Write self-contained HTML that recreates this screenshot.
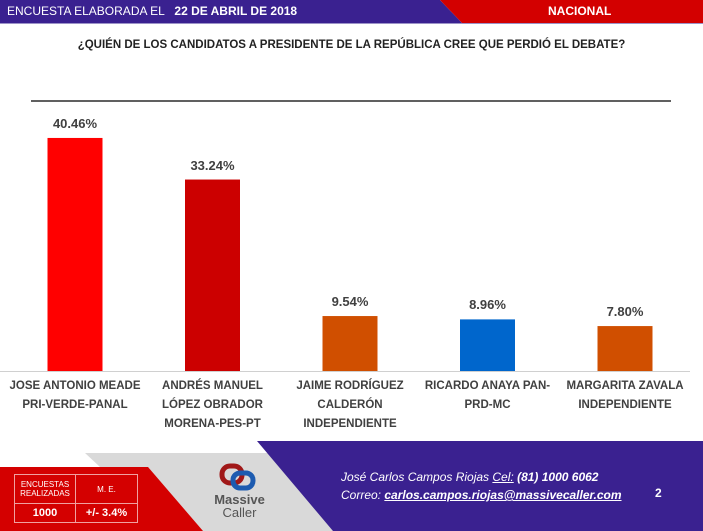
<!DOCTYPE html>
<html><head><meta charset="utf-8"><style>
body{margin:0;width:703px;height:531px;overflow:hidden;background:#fff;font-family:"Liberation Sans",sans-serif;position:relative}
.abs{position:absolute}
.lbl{position:absolute;width:140px;text-align:center;font-weight:bold;font-size:11.5px;line-height:19px;color:#404040;top:377px}
.val{position:absolute;width:100px;text-align:center;font-weight:bold;font-size:13px;color:#404040}
</style></head><body>
<svg class="abs" style="left:0;top:0" width="703" height="531">
<polygon points="0,0 440,0 462,23 0,23" fill="#3a2190"/>
<polygon points="440,0 703,0 703,23 462,23" fill="#d30000"/>
<line x1="0" y1="23.5" x2="703" y2="23.5" stroke="#9c93c8" stroke-width="1"/>
<polygon points="85,453 270,453 340,531 150,531 100,467" fill="#d9d9d9"/>
<polygon points="257,441 703,441 703,531 333,531" fill="#3a2190"/>
<polygon points="0,467 148,467 203,531 0,531" fill="#d40000"/>
<line x1="31" y1="101" x2="671" y2="101" stroke="#000" stroke-width="1.3"/>
<line x1="0" y1="371.5" x2="690" y2="371.5" stroke="#d0d0d0" stroke-width="1"/>
<g id="bars"></g>
<g>
<rect x="222" y="466" width="20" height="17" rx="8" fill="none" stroke="#a01818" stroke-width="5"/>
<rect x="233" y="473" width="20" height="15" rx="7" fill="none" stroke="#1d5bb0" stroke-width="5"/>
</g>
</svg>
<div class="abs" style="left:7px;top:4px;font-size:12px;color:#fff">ENCUESTA ELABORADA EL &nbsp;&nbsp;<b>22 DE ABRIL DE 2018</b></div>
<div class="abs" style="left:548px;top:4px;font-size:12px;color:#fff;font-weight:bold">NACIONAL</div>
<div class="abs" style="left:0;width:703px;text-align:center;top:39px;font-size:11.5px;font-weight:bold;color:#222">¿QUIÉN DE LOS CANDIDATOS A PRESIDENTE DE LA REPÚBLICA CREE QUE PERDIÓ EL DEBATE?</div>
<div id="labels"></div>
<table class="abs" style="left:14px;top:474px;border-collapse:collapse;color:#fff;font-size:8px;text-align:center">
<tr style="height:29px"><td style="border:1px solid #f0a0a0;width:58px">ENCUESTAS<br>REALIZADAS</td><td style="border:1px solid #f0a0a0;width:59px">M. E.</td></tr>
<tr style="height:19px;font-size:11px;font-weight:bold"><td style="border:1px solid #f0a0a0">1000</td><td style="border:1px solid #f0a0a0">+/- 3.4%</td></tr>
</table>
<div class="abs" style="left:212px;top:493px;font-size:13px;color:#555;line-height:13px;text-align:center;width:55px"><b>Massive</b><br>Caller</div>
<div class="abs" style="left:341px;top:468px;font-size:12px;color:#fff;font-style:italic;line-height:18px">José Carlos Campos Riojas <u>Cel:</u> <b>(81) 1000 6062</b><br>Correo: <b><u>carlos.campos.riojas@massivecaller.com</u></b></div>
<div class="abs" style="left:655px;top:486px;font-size:12px;color:#fff;font-weight:bold">2</div>
<script>
const categories=[["JOSE ANTONIO MEADE","PRI-VERDE-PANAL"],["ANDRÉS MANUEL","LÓPEZ OBRADOR","MORENA-PES-PT"],["JAIME RODRÍGUEZ","CALDERÓN","INDEPENDIENTE"],["RICARDO ANAYA PAN-","PRD-MC"],["MARGARITA ZAVALA","INDEPENDIENTE"]];
const values=[40.46,33.24,9.54,8.96,7.80];
const valueLabels=["40.46%","33.24%","9.54%","8.96%","7.80%"];
const colors=["#ff0000","#cc0000","#d04f00","#0066cc","#d04f00"];
const base=371,scale=5.76,x0=75,step=137.5,bw=55;
const y=v=>base-v*scale, xc=i=>x0+i*step;
const g=document.getElementById('bars'),L=document.getElementById('labels');
values.forEach((v,i)=>{
 const r=document.createElementNS('http://www.w3.org/2000/svg','rect');
 
 
 r.setAttribute('x',xc(i)-bw/2);r.setAttribute('y',y(v));r.setAttribute('width',bw);r.setAttribute('height',base-y(v));r.setAttribute('fill',colors[i]);
 g.appendChild(r);
 const d=document.createElement('div');d.className='val';
 
 
 d.style.left=(xc(i)-50)+'px';d.style.top=(y(v)-22)+'px';d.textContent=valueLabels[i];L.appendChild(d);
 const c=document.createElement('div');c.className='lbl';
 
 
 c.style.left=(xc(i)-70)+'px';c.innerHTML=categories[i].join('<br>');L.appendChild(c);
});
</script>
</body></html>
